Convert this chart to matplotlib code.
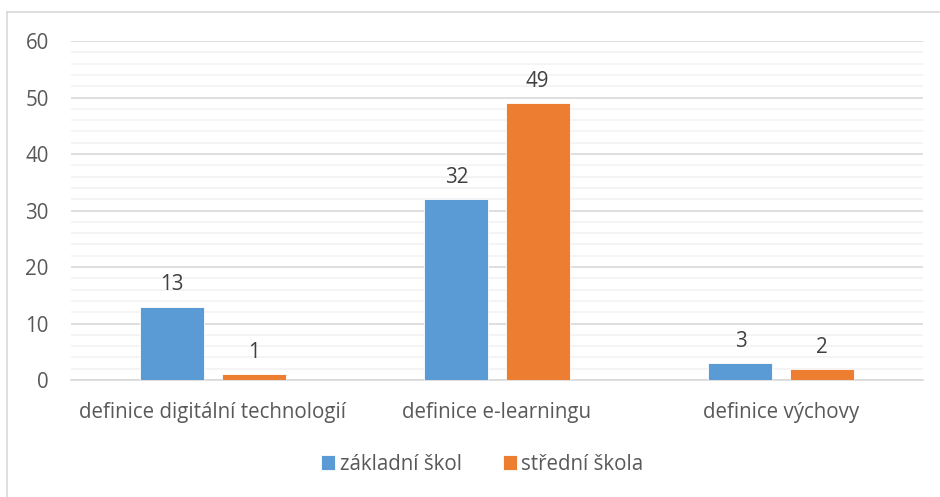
import matplotlib
matplotlib.use("Agg")
import matplotlib.pyplot as plt
from matplotlib.lines import Line2D
from matplotlib.ticker import MultipleLocator
import numpy as np

categories = ["definice digitální technologií", "definice e-learningu", "definice výchovy"]
zakladni = [13, 32, 3]
stredni = [1, 49, 2]
series_names = ["základní škol", "střední škola"]

plt.rcParams['font.family'] = ['Open Sans', 'DejaVu Sans']
text_color = '#595959'
fs = 14.8

fig = plt.figure(figsize=(9.4, 4.97), dpi=100, facecolor='white')
ax = fig.add_axes([0.0755, 0.2354, 0.9065, 0.6821])

x = np.arange(len(categories))
w = 0.225
off = 0.143
b1 = ax.bar(x - off, zakladni, w, color='#5B9BD5', edgecolor='white', linewidth=0.6,
            label=series_names[0], zorder=3)
b2 = ax.bar(x + off, stredni, w, color='#ED7D31', edgecolor='white', linewidth=0.6,
            label=series_names[1], zorder=3)

for bars in (b1, b2):
    for rect in bars:
        h = rect.get_height()
        ax.annotate(f"{h:g}", (rect.get_x() + rect.get_width() / 2, h),
                    xytext=(0, 8), textcoords='offset points', ha='center', va='bottom',
                    fontsize=fs, color='#404040')

ax.set_xlim(-0.5, 2.5)
ax.set_ylim(0, 60)
ax.yaxis.set_major_locator(MultipleLocator(10))
ax.yaxis.set_minor_locator(MultipleLocator(2))
ax.grid(axis='y', which='major', color='#D9D9D9', linewidth=1.2, zorder=0)
ax.grid(axis='y', which='minor', color='#F2F2F2', linewidth=1.2, zorder=0)
ax.set_axisbelow(True)
for s in ['top', 'right', 'left']:
    ax.spines[s].set_visible(False)
ax.spines['bottom'].set_color('#D9D9D9')
ax.spines['bottom'].set_linewidth(1.2)
ax.tick_params(axis='both', which='both', length=0, colors=text_color, labelsize=fs)
ax.tick_params(axis='y', pad=16)
ax.tick_params(axis='x', pad=16)
ax.set_xticks(x)
ax.set_xticklabels(categories)

fig.legend(handles=[b1, b2], loc='center', bbox_to_anchor=(0.513, 0.066), ncol=2,
           frameon=False, fontsize=fs, labelcolor=text_color, handlelength=0.7,
           handleheight=0.7, handletextpad=0.2, columnspacing=2.0)

# chart frame (only left and top edges visible in the crop)
fig.add_artist(Line2D([0.0075, 0.0075], [0, 0.976], color='#D9D9D9', linewidth=1.2,
                      transform=fig.transFigure))
fig.add_artist(Line2D([0.0075, 1.0], [0.976, 0.976], color='#D9D9D9', linewidth=1.2,
                      transform=fig.transFigure))

fig.savefig("out.png", dpi=100, facecolor='white')
